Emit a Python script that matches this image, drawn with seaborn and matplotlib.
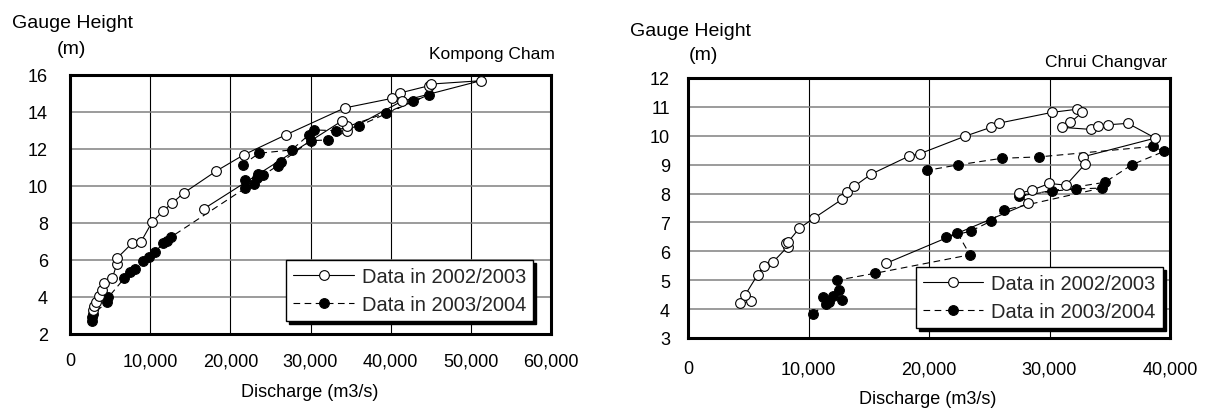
import matplotlib
matplotlib.use("Agg")
import matplotlib.pyplot as plt
from matplotlib.ticker import FuncFormatter, MultipleLocator
import seaborn as sns
import pandas as pd

# Kompong Cham: discharge (m3/s) and gauge height (m)
kc_0203_q = [2850, 3030, 3210, 3620, 3950, 4280, 5280, 5830, 5900, 7770, 8820,
             10230, 11640, 12760, 14180, 18210, 21700, 26900, 34270, 40200, 41170,
             44780, 45030, 51220, 41370, 34560, 34590, 33970, 16670]
kc_0203_h = [3.30, 3.50, 3.71, 4.07, 4.39, 4.74, 5.01, 5.78, 6.11, 6.92, 6.96,
             8.04, 8.67, 9.08, 9.62, 10.80, 11.69, 12.76, 14.22, 14.74, 15.03,
             15.42, 15.51, 15.69, 14.58, 12.99, 13.26, 13.53, 8.76]
kc_0304_q = [2710, 2710, 2910, 4570, 4780, 6770, 7490, 8110, 9140, 9850, 10600,
             11640, 12060, 12560, 21870, 22990, 21830, 23290, 23490, 24110, 25910,
             26320, 30020, 32180, 36090, 44780, 42830, 39420, 33180, 30470, 29810,
             27650, 23580, 21540]
kc_0304_h = [2.72, 2.90, 3.08, 3.71, 3.98, 5.01, 5.33, 5.51, 5.96, 6.15, 6.42,
             6.92, 7.04, 7.23, 9.89, 10.11, 10.32, 10.43, 10.65, 10.59, 11.10,
             11.28, 12.45, 12.49, 13.26, 14.94, 14.58, 13.95, 12.99, 13.03, 12.77,
             11.95, 11.77, 11.15]

# Chrui Changvar: discharge (m3/s) and gauge height (m)
cc_0203_q = [5230, 4340, 4760, 5780, 6310, 7030, 8270, 8130, 8320, 9240, 10460,
             12780, 13220, 13800, 15190, 18310, 19250, 22960, 25120, 25840, 30210,
             32310, 32720, 31730, 31060, 33470, 34000, 34830, 36510, 38780, 32760,
             32950, 31370, 29990, 28550, 27470, 28240, 16410]
cc_0203_h = [4.27, 4.20, 4.50, 5.19, 5.50, 5.62, 6.16, 6.28, 6.33, 6.80, 7.15,
             7.80, 8.06, 8.25, 8.67, 9.29, 9.38, 9.98, 10.29, 10.44, 10.81,
             10.92, 10.81, 10.46, 10.29, 10.22, 10.33, 10.38, 10.43, 9.92, 9.27,
             9.02, 8.29, 8.35, 8.12, 8.01, 7.66, 5.58]
cc_0304_q = [10370, 11430, 11180, 11700, 12010, 12810, 12510, 12390, 15520, 23400,
             22350, 21440, 23460, 25120, 26220, 34330, 32170, 30210, 27490, 34600,
             36850, 39500, 38560, 29150, 26030, 22380, 19810]
cc_0304_h = [3.83, 4.18, 4.41, 4.24, 4.44, 4.33, 4.67, 5.00, 5.24, 5.88,
             6.64, 6.49, 6.70, 7.04, 7.43, 8.19, 8.16, 8.08, 7.92, 8.39,
             9.00, 9.46, 9.63, 9.27, 9.22, 8.99, 8.80]

series_labels = ["Data in 2002/2003", "Data in 2003/2004"]
station_names = ["Kompong Cham", "Chrui Changvar"]

sns.set_theme(style="white")
plt.rcParams["font.family"] = ["Liberation Sans", "DejaVu Sans"]

W, H = 1207, 410
fig = plt.figure(figsize=(W / 100, H / 100), dpi=100)


def px_axes(x0, y0, x1, y1):
    return fig.add_axes([x0 / W, 1 - y1 / H, (x1 - x0) / W, (y1 - y0) / H])


def draw_station(ax, q1, h1, q2, h2):
    d1 = pd.DataFrame({"q": q1, "h": h1})
    d2 = pd.DataFrame({"q": q2, "h": h2})
    sns.lineplot(data=d1, x="q", y="h", sort=False, estimator=None, ax=ax,
                 color="black", linewidth=0.8, marker="o", markersize=7,
                 markerfacecolor="white", markeredgecolor="black",
                 markeredgewidth=0.8, label=series_labels[0], zorder=4)
    sns.lineplot(data=d2, x="q", y="h", sort=False, estimator=None, ax=ax,
                 color="black", linewidth=0.8, marker="o", markersize=7,
                 markerfacecolor="black", markeredgecolor="black",
                 markeredgewidth=0.8, label=series_labels[1], zorder=3)
    ax.lines[-1].set_dashes([6, 4])


def style_axes(ax, xmax, ymin, ymax, xpad, ypad):
    ax.set_xlim(0, xmax)
    ax.set_ylim(ymin, ymax)
    ax.xaxis.set_major_locator(MultipleLocator(10000))
    ax.yaxis.set_major_locator(MultipleLocator(2 if ymax - ymin > 10 else 1))
    ax.xaxis.set_major_formatter(FuncFormatter(lambda v, p: f"{int(v):,}"))
    ax.yaxis.grid(True, color="#808080", linewidth=1.1)
    ax.xaxis.grid(True, color="black", linewidth=0.8)
    ax.set_axisbelow(True)
    for s in ax.spines.values():
        s.set_visible(True)
        s.set_color("black")
        s.set_linewidth(2.2)
    ax.tick_params(axis="both", direction="in", length=4, width=1,
                   colors="black", labelsize=13)
    ax.tick_params(axis="x", pad=xpad)
    ax.tick_params(axis="y", pad=ypad)
    ax.set_xlabel("")
    ax.set_ylabel("")


def add_legend(ax, anchor):
    leg = ax.legend(loc="lower right", bbox_to_anchor=anchor, borderaxespad=0,
                    fontsize=14.5, handlelength=3, numpoints=1, fancybox=False,
                    edgecolor="black", framealpha=1, borderpad=0.35,
                    labelspacing=0.45, handletextpad=0.4,
                    shadow={"color": "black", "alpha": 1})
    leg.get_frame().set_linewidth(1)


# Left panel
ax1 = px_axes(70, 76, 551, 335)
draw_station(ax1, kc_0203_q, kc_0203_h, kc_0304_q, kc_0304_h)
style_axes(ax1, 60000, 2, 16, xpad=13, ypad=16)
add_legend(ax1, (0.963, 0.05))

# Right panel
ax2 = px_axes(688, 79, 1170, 339)
draw_station(ax2, cc_0203_q, cc_0203_h, cc_0304_q, cc_0304_h)
style_axes(ax2, 40000, 3, 12, xpad=16, ypad=13)
add_legend(ax2, (0.985, 0.038))


def ftext(x, y, s, **kw):
    fig.text(x / W, 1 - y / H, s, va="center", color="black", **kw)


ftext(12, 24, "Gauge Height", fontsize=14, ha="left")
ftext(71, 50, "(m)", fontsize=14, ha="center")
ftext(555, 55, station_names[0], fontsize=12.5, ha="right")
ftext(310, 393, "Discharge (m3/s)", fontsize=13, ha="center")

ftext(630, 31, "Gauge Height", fontsize=14, ha="left")
ftext(703, 56, "(m)", fontsize=14, ha="center")
ftext(1167, 62, station_names[1], fontsize=12.5, ha="right")
ftext(928, 400, "Discharge (m3/s)", fontsize=13, ha="center")

fig.savefig("out.png", dpi=100, facecolor="white")
